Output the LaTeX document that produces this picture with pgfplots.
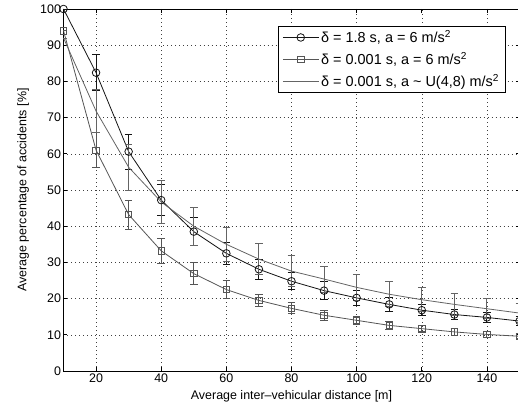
\documentclass[border=0pt]{standalone}
\usepackage{pgfplots}
\pgfplotsset{compat=1.18}
\usepackage{pgfplotstable}
\usepackage{fontspec}
\setmainfont{Liberation Sans}

\definecolor{sA}{RGB}{20,20,20}
\definecolor{sB}{RGB}{85,85,85}
\definecolor{sC}{RGB}{100,100,100}

% x, mean, half-width of the error bar
\pgfplotstableread{
x y e
10 100 0
20 82.4 5.0
30 60.6 4.8
40 47.2 4.3
50 38.5 3.9
60 32.5 3.1
70 28.1 2.7
80 24.8 2.3
90 22.2 2.4
100 20.2 2.0
110 18.4 1.9
120 16.8 1.5
130 15.6 1.4
140 14.8 1.5
150 13.8 1.3
}\delayA

\pgfplotstableread{
x y e
10 94.0 0
20 61.0 4.8
30 43.2 4.0
40 33.2 3.4
50 26.9 3.0
60 22.5 2.4
70 19.5 1.7
80 17.3 1.5
90 15.4 1.3
100 14.0 1.2
110 12.6 1.1
120 11.7 1.0
130 10.8 0.9
140 10.1 0.7
150 9.6 0.7
}\delayB

\pgfplotstableread{
x y e
10 92.0 0
20 71.8 6.0
30 56.3 6.3
40 46.7 5.9
50 40.0 5.3
60 35.0 4.6
70 30.9 4.3
80 27.6 4.2
90 25.4 3.6
100 23.1 3.6
110 21.2 3.4
120 19.7 3.3
130 18.4 3.0
140 17.2 2.8
150 16.0 2.6
}\delayC

\begin{document}
\begin{tikzpicture}
\begin{axis}[
  width=456bp, height=362bp,
  scale only axis,
  xmin=10, xmax=150, ymin=0, ymax=100,
  xtick={20,40,...,140},
  ytick={0,10,...,100},
  tick align=inside,
  major tick length=4bp,
  grid=major,
  grid style={black!75, line width=0.5bp, dash pattern=on 0.7bp off 3.3bp},
  axis line style={line width=0.9bp},
  tick style={line width=0.6bp, black},
  /pgf/number format/assume math mode=true,
  tick label style={font=\fontsize{12.5}{14}\selectfont},
  yticklabel style={xshift=1bp},
  xticklabel style={yshift=1bp},
  label style={font=\fontsize{12.5}{14}\selectfont},
  xlabel={Average inter\textendash vehicular distance [m]},
  ylabel={Average percentage of accidents [\%]},
  xlabel style={yshift=-1bp},
  ylabel style={yshift=4.5bp},
  legend cell align=left,
  legend style={at={(1,1)}, anchor=north east, xshift=-14bp, yshift=-16.7bp,
    draw=black, line width=0.8bp, fill=white,
    font=\fontsize{14.5}{17}\selectfont,
    row sep=4bp, inner xsep=4bp, inner ysep=2.5bp},
  legend image code/.code={%
    \draw[mark repeat=2, mark phase=2] plot coordinates {(0bp,0bp) (18bp,0bp) (36bp,0bp)};},
  error bars/y dir=both,
  error bars/y explicit,
]
\addplot[sA, line width=0.8bp, mark=o, mark size=3.8bp,
  mark options={line width=0.8bp},
  error bars/error bar style={line width=0.9bp, sA},
  error bars/error mark options={rotate=90, mark size=3.8bp, line width=0.9bp, sA}]
  table[x=x, y=y, y error=e] {\delayA};
\addlegendentry{δ = 1.8 s, a = 6 m/s\textsuperscript{2}}

\addplot[sB, line width=0.8bp, mark=square, mark size=3.2bp,
  mark options={line width=0.8bp},
  error bars/error bar style={line width=0.9bp, sB},
  error bars/error mark options={rotate=90, mark size=3.8bp, line width=0.9bp, sB}]
  table[x=x, y=y, y error=e] {\delayB};
\addlegendentry{δ = 0.001 s, a = 6 m/s\textsuperscript{2}}

\addplot[sC, line width=0.8bp, mark=none,
  error bars/error bar style={line width=0.9bp, sC},
  error bars/error mark options={rotate=90, mark size=3.8bp, line width=0.9bp, sC}]
  table[x=x, y=y, y error=e] {\delayC};
\addlegendentry{δ = 0.001 s, a \textasciitilde{} U(4,8) m/s\textsuperscript{2}}

\coordinate (o) at (rel axis cs:0,0);
\coordinate (t) at (rel axis cs:1,1);
\end{axis}
\pgfresetboundingbox
\path ([shift={(-63.5bp,-43.3bp)}]o) rectangle ([shift={(-1.5bp,9bp)}]t);
\end{tikzpicture}
\end{document}
